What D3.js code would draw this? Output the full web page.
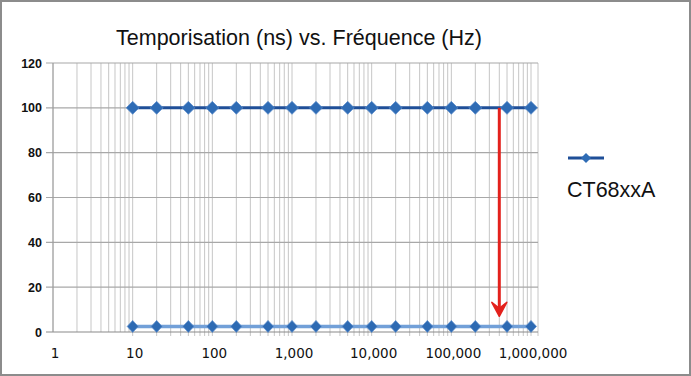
<!DOCTYPE html>
<html>
<head>
<meta charset="utf-8">
<script src="https://cdn.jsdelivr.net/npm/d3@7"></script>
<style>
  body { margin: 0; background: #fff; }
  svg { display: block; }
</style>
</head>
<body>
<script>
// chart values
const frequencies = [10, 20, 50, 100, 200, 500, 1000, 2000, 5000, 10000, 20000, 50000, 100000, 200000, 500000, 1000000];
const delayHigh = [100, 100, 100, 100, 100, 100, 100, 100, 100, 100, 100, 100, 100, 100, 100, 100];
const delayLow = [2.5, 2.5, 2.5, 2.5, 2.5, 2.5, 2.5, 2.5, 2.5, 2.5, 2.5, 2.5, 2.5, 2.5, 2.5, 2.5];
const yTicks = [0, 20, 40, 60, 80, 100, 120];
const xTicks = [1, 10, 100, 1000, 10000, 100000, 1000000];
const seriesName = "CT68xxA";
const arrowFreq = 400000;
const arrowFrom = 100;
const arrowTo = 7;

const width = 691;
const height = 376;

const svg = d3.select('body')
    .append('svg')
    .attr('width', width)
    .attr('height', height);

svg.append('rect')
    .attr('x', 1).attr('y', 1)
    .attr('width', width - 2).attr('height', height - 2)
    .attr('fill', '#fff')
    .attr('stroke', '#8c8c8c')
    .attr('stroke-width', 2);

const Xscale = d3.scaleLog()
    .domain([1, 1000000])
    .range([53, 531]);

const Yscale = d3.scaleLinear()
    .domain([0, 120])
    .range([332, 63]);

const rightEdge = 538;

// vertical grid (major + minor log lines)
const vLines = [];
for (let p = 0; p < 6; p++) {
    for (let m = 1; m <= 9; m++) vLines.push(m * Math.pow(10, p));
}
vLines.push(1000000);

svg.append('g')
    .selectAll('line')
    .data(vLines)
    .enter()
    .append('line')
    .attr('x1', d => Xscale(d))
    .attr('x2', d => Xscale(d))
    .attr('y1', Yscale(120))
    .attr('y2', d => d < 10 ? Yscale(0) : Yscale(0) + 4)
    .attr('stroke', '#c6c6c6')
    .attr('stroke-width', 1);

svg.append('line')
    .attr('x1', rightEdge).attr('x2', rightEdge)
    .attr('y1', Yscale(120)).attr('y2', Yscale(0) + 4)
    .attr('stroke', '#c6c6c6');

// horizontal grid
svg.append('g')
    .selectAll('line')
    .data(yTicks)
    .enter()
    .append('line')
    .attr('x1', 46)
    .attr('x2', rightEdge)
    .attr('y1', d => Yscale(d))
    .attr('y2', d => Yscale(d))
    .attr('stroke', d => d === 0 ? '#8a8a8a' : '#a8a8a8')
    .attr('stroke-width', 1.2);

// y axis line
svg.append('line')
    .attr('x1', Xscale(1)).attr('x2', Xscale(1))
    .attr('y1', Yscale(120)).attr('y2', Yscale(0))
    .attr('stroke', '#9a9a9a');

// y labels
svg.append('g')
    .selectAll('text')
    .data(yTicks)
    .enter()
    .append('text')
    .attr('x', 42)
    .attr('y', d => Yscale(d) + 4.5)
    .attr('text-anchor', 'end')
    .attr('font-family', 'Liberation Sans, Arial, sans-serif')
    .attr('font-weight', 'bold')
    .attr('font-size', 12.5)
    .attr('fill', '#111')
    .text(d => d);

// x labels
svg.append('g')
    .selectAll('text')
    .data(xTicks)
    .enter()
    .append('text')
    .attr('x', d => Xscale(d) + 2)
    .attr('y', 358)
    .attr('text-anchor', 'middle')
    .attr('font-family', 'DejaVu Sans, Verdana, sans-serif')
    .attr('font-size', 13.5)
    .attr('fill', '#111')
    .text(d => d3.format(',')(d));

// series
const line = d3.line()
    .x(d => Xscale(d[0]))
    .y(d => Yscale(d[1]));

const diamondPath = (w, h) => `M0,${-h}L${w},0L0,${h}L${-w},0Z`;

function drawSeries(values, lineColor, lineWidth, markColor, w, h) {
    const pts = frequencies.map((f, i) => [f, values[i]]);
    svg.append('path')
        .datum(pts)
        .attr('d', line)
        .attr('fill', 'none')
        .attr('stroke', lineColor)
        .attr('stroke-width', lineWidth);
    svg.append('g')
        .selectAll('path')
        .data(pts)
        .enter()
        .append('path')
        .attr('transform', d => `translate(${Xscale(d[0])},${Yscale(d[1])})`)
        .attr('d', diamondPath(w, h))
        .attr('fill', markColor)
        .attr('stroke', '#5b8dcc')
        .attr('stroke-width', 0.7);
}

drawSeries(delayLow, '#72a0d8', 3.5, '#2d6ab3', 5.5, 6);
drawSeries(delayHigh, '#1f4f98', 3, '#2f6cb5', 6.5, 6.5);

// red arrow
const ax = Xscale(arrowFreq);
const tipY = Yscale(arrowTo);
svg.append('line')
    .attr('x1', ax).attr('x2', ax)
    .attr('y1', Yscale(arrowFrom)).attr('y2', tipY - 6)
    .attr('stroke', '#e3211c')
    .attr('stroke-width', 3);
svg.append('path')
    .attr('d', `M${ax},${tipY} L${ax - 7.5},${tipY - 14} L${ax},${tipY - 8} L${ax + 7.5},${tipY - 14} Z`)
    .attr('fill', '#e3211c')
    .attr('stroke', '#e3211c')
    .attr('stroke-width', 1.5)
    .attr('stroke-linejoin', 'round');

// title
svg.append('text')
    .attr('x', 299)
    .attr('y', 45)
    .attr('text-anchor', 'middle')
    .attr('font-family', 'Liberation Sans, Arial, sans-serif')
    .attr('font-size', 21.5)
    .attr('fill', '#111')
    .attr('textLength', 366)
    .text('Temporisation (ns) vs. Fréquence (Hz)');

// legend
const lg = svg.append('g');
lg.append('line')
    .attr('x1', 568).attr('x2', 604)
    .attr('y1', 158).attr('y2', 158)
    .attr('stroke', '#1f4f98')
    .attr('stroke-width', 3);
lg.append('path')
    .attr('transform', 'translate(586,158)')
    .attr('d', diamondPath(5, 5))
    .attr('fill', '#2f6cb5');
lg.append('text')
    .attr('x', 567)
    .attr('y', 197)
    .attr('font-family', 'Liberation Sans, Arial, sans-serif')
    .attr('font-size', 21.5)
    .attr('fill', '#111')
    .text(seriesName);
</script>
</body>
</html>
